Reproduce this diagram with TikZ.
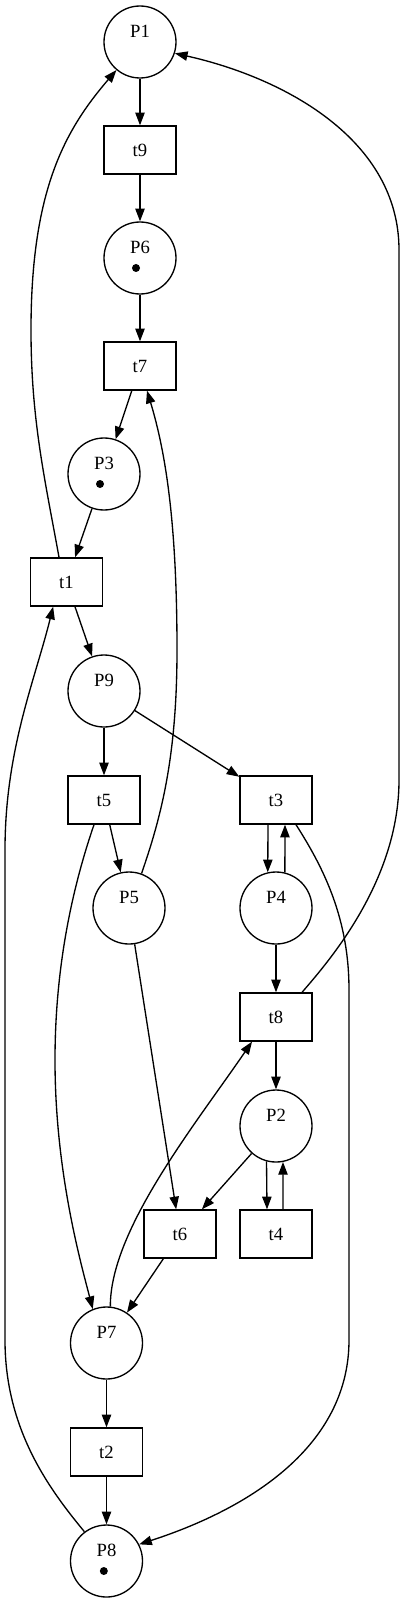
\documentclass[tikz,border=0pt]{standalone}
\usepackage{fontspec}
\setmainfont{Liberation Serif}
\usetikzlibrary{arrows.meta}

\begin{document}
\begin{tikzpicture}[x=0.75pt, y=-0.75pt, line width=1pt, font=\fontsize{14}{17}\selectfont,
    >={Triangle[length=9.5pt, width=7pt]},
    place/.style={circle, draw, minimum size=54pt, inner sep=0pt, label={[yshift=8.25pt]center:#1}},
    trans/.style={draw, minimum width=54pt, minimum height=36pt, inner sep=0pt},
    token/.style={circle, fill, minimum size=6pt, inner sep=0pt}]
    \useasboundingbox (0,0) rectangle (405,1601);

    \node[place=P1] (P1) at (140,42) {};
    \node[trans] (t9) at (140,150) {t9};
    \node[place=P6] (P6) at (140,258) {};
    \node[token] (k6) at ([xshift=-3pt, yshift=-7.5pt]P6.center) {};
    \node[trans] (t7) at (140,366) {t7};
    \node[place=P3] (P3) at (104,474) {};
    \node[token] (k3) at ([xshift=-3pt, yshift=-7.5pt]P3.center) {};
    \node[trans] (t1) at (66.5,582) {t1};
    \node[place=P9] (P9) at (104,691) {};
    \node[trans] (t5) at (104,800) {t5};
    \node[trans] (t3) at (276,800) {t3};
    \node[place=P5] (P5) at (129,908) {};
    \node[place=P4] (P4) at (276,908) {};
    \node[trans] (t8) at (276,1017) {t8};
    \node[place=P2] (P2) at (276,1126) {};
    \node[trans] (t6) at (180,1234) {t6};
    \node[trans] (t4) at (276,1234) {t4};
    \node[place=P7] (P7) at (106.5,1343) {};
    \node[trans] (t2) at (106.5,1452) {t2};
    \node[place=P8] (P8) at (106.5,1561) {};
    \node[token] (k8) at ([xshift=-2pt, yshift=-7.5pt]P8.center) {};

    \draw[->] (P1) -- (t9);
    \draw[->] (t9) -- (P6);
    \draw[->] (P6) -- (t7);
    \draw[->] (t7) -- (P3);
    \draw[->] (P3) -- (t1);
    \draw[->] (t1) -- (P9);
    \draw[->] (P9) -- (t5);
    \draw[->] (P9) -- (t3);
    \draw[->] (t5) -- (P5);
    \draw[->] ([xshift=-6pt]t3.south) -- (P4.103);
    \draw[->] (P4.76) -- ([xshift=6.75pt]t3.south);
    \draw[->] (P4) -- (t8);
    \draw[->] (t8) -- (P2);
    \draw[->] (P5) -- (t6);
    \draw[->] (P2) -- (t6);
    \draw[->] (P2.-105) -- ([xshift=-6.75pt]t4.north);
    \draw[->] ([xshift=5.25pt]t4.north) -- (P2.-79);
    \draw[->] (t6) -- (P7);
    \draw[->] (P7) -- (t2);
    \draw[->] (t2) -- (P8);

    \draw[->] ([xshift=-5.6pt]t1.north) .. controls (45,480) and (31,420) .. (31,330)
        .. controls (31,190) and (65,130) .. (P1.230);
    \draw[->] ([xshift=19.5pt]t8.north) .. controls (330,960) and (399,880) .. (399,780)
        -- (399,250) .. controls (399,140) and (285,78) .. (P1.-18);
    \draw[->] ([xshift=15pt]t3.south) .. controls (325,870) and (349,920) .. (349,990)
        -- (349,1340) .. controls (349,1440) and (260,1505) .. (P8.27);
    \draw[->] ([xshift=-7.5pt]t5.south) .. controls (75,880) and (55,960) .. (55,1060)
        .. controls (55,1170) and (80,1260) .. (P7.112);
    \draw[->] (P5.70) .. controls (160,820) and (177,760) .. (177,650)
        .. controls (177,520) and (165,450) .. ([xshift=5.25pt]t7.south);
    \draw[->] (P8.127) .. controls (50,1490) and (5,1430) .. (5,1340)
        -- (5,850) .. controls (5,750) and (35,680) .. ([xshift=-10pt]t1.south);
    \draw[->] (P7.84) .. controls (110,1230) and (195,1125) .. ([xshift=-18pt]t8.south);
\end{tikzpicture}
\end{document}
